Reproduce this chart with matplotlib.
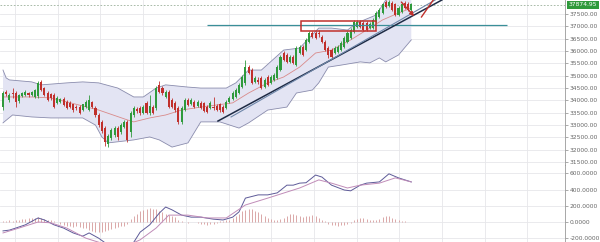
import numpy as np
import matplotlib
matplotlib.use("Agg")
import matplotlib.pyplot as plt
import matplotlib.transforms as mtransforms

# candles (oldest -> newest)
opens = [33730, 34340, 34020, 34300, 34300, 33980, 34180, 34220, 34300, 34220,
         34140, 34180, 34750, 34500, 34300, 34260, 34220, 33900, 33940, 34060,
         33940, 33900, 33820, 33730, 33730, 33610, 33730, 33610, 33940, 33690,
         33410, 33130, 32880, 32230, 32480, 32600, 32880, 32720, 32920, 33130,
         32720, 33410, 33650, 33690, 33490, 33900, 33490, 33730, 33690, 34620,
         34500, 34140, 34340, 34020, 33900, 33690, 33130, 33610, 34020, 33860,
         33940, 33770, 33900, 33860, 33730, 33690, 33730, 33770, 33820, 33730,
         33690, 33940, 34060, 34140, 34300, 34540, 34710, 35350, 35230, 34750,
         34830, 34910, 34540, 34950, 34710, 34830, 34910, 35230, 35920, 35840,
         35560, 35760, 35430, 35920, 36160, 36040, 36370, 36730, 36730, 36730,
         36570, 36370, 36120, 36040, 35920, 35960, 36040, 36160, 36370, 36530,
         36770, 36970, 37180, 37140, 37140, 36930, 36930, 37180, 37380, 37540,
         37990, 37820, 37950, 37870, 37460, 37580, 37950, 37910, 37660]
highs = [34380, 34420, 34300, 34500, 34380, 34260, 34340, 34420, 34340, 34380,
         34460, 34790, 34830, 34540, 34380, 34300, 34300, 34180, 34100, 34140,
         34020, 33980, 33860, 33820, 33820, 33860, 34020, 34220, 33980, 33770,
         33490, 33210, 32960, 32640, 32880, 32960, 32960, 33090, 33210, 33210,
         33570, 33770, 33730, 33770, 33820, 33980, 34220, 33820, 34580, 34790,
         34580, 34420, 34420, 34100, 33980, 33770, 33770, 34100, 34100, 34100,
         34020, 34020, 33980, 33940, 33820, 33980, 34140, 33860, 33900, 33820,
         34020, 34180, 34380, 34500, 34710, 35030, 35640, 35430, 35310, 34990,
         34950, 34990, 34910, 35030, 35030, 35110, 35430, 35840, 36000, 35920,
         35840, 35840, 36200, 36240, 36240, 36530, 36810, 36810, 36810, 36850,
         36650, 36450, 36200, 36120, 36200, 36240, 36410, 36610, 36810, 36930,
         37260, 37260, 37260, 37220, 37220, 37180, 37340, 37620, 37740, 37950,
         38070, 38070, 38030, 37950, 37820, 37950, 38030, 37990, 37950]
lows = [33610, 34180, 33940, 34100, 33730, 33900, 34140, 34180, 34140, 34180,
        34100, 34100, 34380, 34180, 33980, 34020, 33690, 33860, 33900, 33770,
        33650, 33690, 33530, 33610, 33450, 33570, 33690, 33570, 33690, 33330,
        32920, 32680, 32150, 32110, 32400, 32520, 32400, 32640, 32880, 32320,
        32520, 33330, 33490, 33410, 33450, 33450, 33410, 33450, 33610, 34300,
        34220, 34100, 33690, 33690, 33530, 33040, 33040, 33570, 33770, 33820,
        33690, 33730, 33650, 33530, 33490, 33650, 33610, 33570, 33530, 33490,
        33650, 33900, 34020, 34100, 34260, 34500, 34620, 35070, 34670, 34710,
        34670, 34460, 34500, 34580, 34670, 34790, 34870, 35190, 35600, 35520,
        35520, 35480, 35390, 35880, 35800, 36000, 36330, 36530, 36490, 36570,
        36330, 36000, 35720, 35720, 35880, 35920, 36000, 36120, 36330, 36490,
        36730, 36930, 36930, 36810, 36810, 36890, 36890, 37140, 37340, 37500,
        37740, 37780, 37620, 37420, 37420, 37540, 37700, 37620, 37620]
closes = [34300, 34260, 34220, 34260, 33940, 34220, 34300, 34340, 34220, 34340,
          34420, 34710, 34420, 34220, 34020, 34100, 33730, 34100, 34060, 33820,
          33690, 33730, 33610, 33690, 33490, 33820, 33940, 34020, 33730, 33410,
          33000, 32760, 32320, 32560, 32800, 32880, 32520, 33000, 33130, 32400,
          33490, 33690, 33570, 33490, 33730, 33490, 33770, 33490, 34500, 34340,
          34300, 34340, 33730, 33730, 33610, 33130, 33690, 34020, 33820, 34020,
          33730, 33940, 33690, 33570, 33530, 33900, 33690, 33610, 33610, 33530,
          33940, 34100, 34300, 34420, 34620, 34950, 35350, 35110, 34710, 34910,
          34750, 34500, 34830, 34620, 34950, 35030, 35350, 35760, 35640, 35560,
          35760, 35520, 36120, 36160, 35840, 36450, 36730, 36570, 36530, 36690,
          36370, 36040, 35840, 35760, 36120, 36160, 36330, 36530, 36730, 36850,
          37180, 37180, 36970, 36850, 36850, 37100, 37260, 37540, 37660, 37870,
          37780, 37990, 37660, 37460, 37740, 37870, 37740, 37660, 37875]
last_price = 37874.95

# bollinger bands (sampled along the candle index)
up_idx = [0, 1, 2, 9, 12, 20, 25, 30, 36, 41, 44, 48, 51, 58, 62, 70, 73, 77, 81, 88,
          93, 99, 103, 108, 111, 117, 120, 124, 128]
up_val = [35230, 34910, 34830, 34750, 34630, 34710, 34750, 34710, 34500, 34140,
          34140, 34500, 34630, 34540, 34500, 34500, 34710, 35230, 35230, 36040,
          36120, 36930, 36930, 36850, 37140, 37460, 38070, 38470, 38670]
lo_idx = [0, 3, 9, 15, 25, 29, 31, 33, 41, 46, 49, 53, 58, 62, 68, 74, 77, 83, 89, 92,
          97, 99, 102, 106, 112, 115, 118, 120, 124, 128]
lo_val = [33090, 33410, 33330, 33290, 33290, 33000, 32520, 32280, 32400, 32520,
          32400, 32110, 32280, 33130, 33130, 32880, 33090, 33610, 33730, 34300,
          34420, 34710, 35350, 35430, 35560, 35520, 35720, 35560, 35840, 36450]
mid_idx = [0, 9, 15, 20, 30, 39, 41, 46, 51, 56, 62, 72, 77, 83, 88, 93, 98, 103,
           109, 114, 119, 124, 128]
mid_val = [34140, 34140, 34100, 33940, 33610, 33210, 33130, 33290, 33410, 33610,
           33730, 33900, 34300, 34710, 34950, 35350, 35920, 36040, 36450, 36850,
           37260, 37540, 37740]

# macd
macd_idx = [0, 2, 4, 7, 11, 13, 16, 19, 22, 25, 27, 30, 33, 36, 39, 41, 43, 46, 49, 51,
            53, 56, 59, 62, 66, 69, 72, 74, 76, 80, 83, 86, 89, 91, 93, 95, 98, 100,
            103, 107, 109, 112, 114, 118, 121, 124, 128]
macd_val = [-110, -100, -75, -35, 50, 25, -35, -75, -135, -175, -135, -200, -285, -330,
            -310, -250, -125, -35, 110, 185, 150, 85, 60, 60, 35, 25, 60, 125, 295, 335,
            335, 360, 455, 455, 480, 485, 580, 555, 455, 395, 385, 455, 480, 495, 595,
            545, 495]
sig_idx = [0, 5, 11, 15, 20, 26, 30, 35, 39, 43, 48, 52, 58, 64, 70, 76, 83, 89, 93, 99,
           103, 108, 112, 118, 123, 128]
sig_val = [-135, -75, 0, -10, -75, -200, -250, -300, -290, -220, -75, 85, 85, 50, 50,
           210, 295, 370, 420, 520, 480, 420, 455, 480, 545, 495]
hist_val = [15, 10, 20, 15,
            25, 30, 35, 40, 45, 50, 55, 60,
            50, 35, 25, 20, 10, 5,
            -20, -35, -45, -55, -60, -55, -60, -70, -80,
            -100, -115, -120, -125, -120, -110, -100, -90,
            -70, -60, -55, -50, -30,
            40, 70, 100, 130, 150, 160, 170, 165, 160, 140, 120, 100, 90, 80, 60,
            30, 15, 5, -10, -5, 0, -15, -25, -30, -35, -30, -20, -10,
            10, 15, 20, 30, 45, 70,
            100, 130, 150, 160, 155, 140, 120, 95, 70,
            55, 40, 30, 25, 35, 55,
            80, 95, 100, 90, 75, 65, 70, 80, 85, 70,
            45, 30, 10,
            -20, -35, -40, -45, -40, -35, -25, -10,
            20, 40, 50, 45, 35, 25, 20, 25, 40,
            60, 75, 70, 55,
            35, 20, 15, 10, 5, 0]

price_ticks = [31500, 32000, 32500, 33000, 33500, 34000, 34500, 35000, 35500,
               36000, 36500, 37000, 37500]
macd_ticks = [-200, 0, 200, 400, 600]

# hand drawn study objects
hline_level = 37050
hline_span = (64, 158)
box_span = (93.4, 116.9)
box_prices = (36810, 37220)
trend_a = ((67.4, 33165), (137.6, 38067))
trend_b = ((71.5, 33330), (135.5, 38067))

GREEN = "#2f9a3c"
RED = "#c0302c"
GRID = "#e7e7ea"

fig = plt.figure(figsize=(6, 2.42), dpi=100)
ax = fig.add_axes([0, 77 / 242, 565 / 600, 165 / 242])
ax2 = fig.add_axes([0, 0, 565 / 600, 77 / 242], sharex=ax)

n = len(closes)
idx = np.arange(n)
o = np.array(opens); c = np.array(closes)
colors = [GREEN if cc >= oo else RED for oo, cc in zip(o, c)]

# bands
poly_x = np.r_[up_idx, lo_idx[::-1]]
poly_y = np.r_[up_val, lo_val[::-1]]
ax.fill(poly_x, poly_y, color="#e3e4f3", zorder=1, lw=0)
ax.plot(up_idx, up_val, color="#8a8cad", lw=0.6, zorder=2)
ax.plot(lo_idx, lo_val, color="#8a8cad", lw=0.6, zorder=2)
ax.plot(mid_idx, mid_val, color="#d98a8a", lw=0.6, zorder=2)

# candles
ax.vlines(idx, lows, highs, colors=colors, lw=0.6, zorder=3)
ax.bar(idx, np.abs(c - o) + 15, bottom=np.minimum(o, c), width=0.65,
       color=colors, lw=0, zorder=4)

# drawings
ax.hlines(hline_level, *hline_span, color="#3a8f98", lw=0.9, zorder=5)
ax.add_patch(plt.Rectangle((box_span[0], box_prices[0]), box_span[1] - box_span[0],
                           box_prices[1] - box_prices[0], fill=False,
                           ec=RED, lw=1.1, zorder=6))
ax.plot(*zip(*trend_a), color="#1e2b45", lw=1.1, zorder=5)
ax.plot(*zip(*trend_b), color="#6e86a8", lw=0.8, zorder=5)
ax.annotate("", xy=(129.5, 37330), xytext=(124.3, 38067),
            arrowprops=dict(arrowstyle="-|>", color=RED, lw=1.0, mutation_scale=6),
            zorder=7)
ax.plot([131.2, 134.9], [37380, 38067], color=RED, lw=1.0, zorder=7)

ax.axhline(last_price, color="#9ab09a", lw=0.6, ls=(0, (2, 2)), zorder=2)

ax.set_xlim(-0.94, 176.2)
ax.set_ylim(31384, 38067)
ax.set_xticks(np.arange(3.76, 176, 13.39))
ax.set_yticks(price_ticks)
ax.set_yticklabels([f"{t:.2f}" for t in price_ticks])
ax.grid(True, color=GRID, lw=0.6)
ax.set_axisbelow(True)
ax.yaxis.tick_right()
ax.tick_params(axis="x", length=0, labelbottom=False)
ax.tick_params(axis="y", length=2, width=0.5, color="#888", labelsize=4.3,
               labelcolor="#666", pad=1.5)
for s in ["top", "left"]:
    ax.spines[s].set_visible(False)
ax.spines["right"].set_color("#999")
ax.spines["right"].set_linewidth(0.6)
ax.spines["bottom"].set_color("#999")
ax.spines["bottom"].set_linewidth(0.6)

tr = mtransforms.blended_transform_factory(ax.transAxes, ax.transData)
ax.text(1.007, last_price, f"{last_price:.2f}", transform=tr, fontsize=4.3,
        color="white", va="center", ha="left", clip_on=False,
        bbox=dict(boxstyle="square,pad=0.25", fc=GREEN, ec="none"))

# lower panel
ax2.vlines(idx, 0, hist_val, colors="#d59a9a", lw=0.6, zorder=2)
ax2.plot(macd_idx, macd_val, color="#5d5a98", lw=0.7, zorder=3)
ax2.plot(sig_idx, sig_val, color="#c08cb8", lw=0.7, zorder=3)
ax2.set_ylim(-247, 704)
ax2.set_yticks(macd_ticks)
ax2.set_yticklabels([f"{t:.4f}" for t in macd_ticks])
ax2.grid(True, color=GRID, lw=0.6)
ax2.set_axisbelow(True)
ax2.yaxis.tick_right()
ax2.tick_params(axis="x", length=0, labelbottom=False)
ax2.tick_params(axis="y", length=2, width=0.5, color="#888", labelsize=4.3,
                labelcolor="#666", pad=1.5)
for s in ["top", "left", "bottom"]:
    ax2.spines[s].set_visible(False)
ax2.spines["right"].set_color("#999")
ax2.spines["right"].set_linewidth(0.6)

fig.savefig("out.png", dpi=100)
